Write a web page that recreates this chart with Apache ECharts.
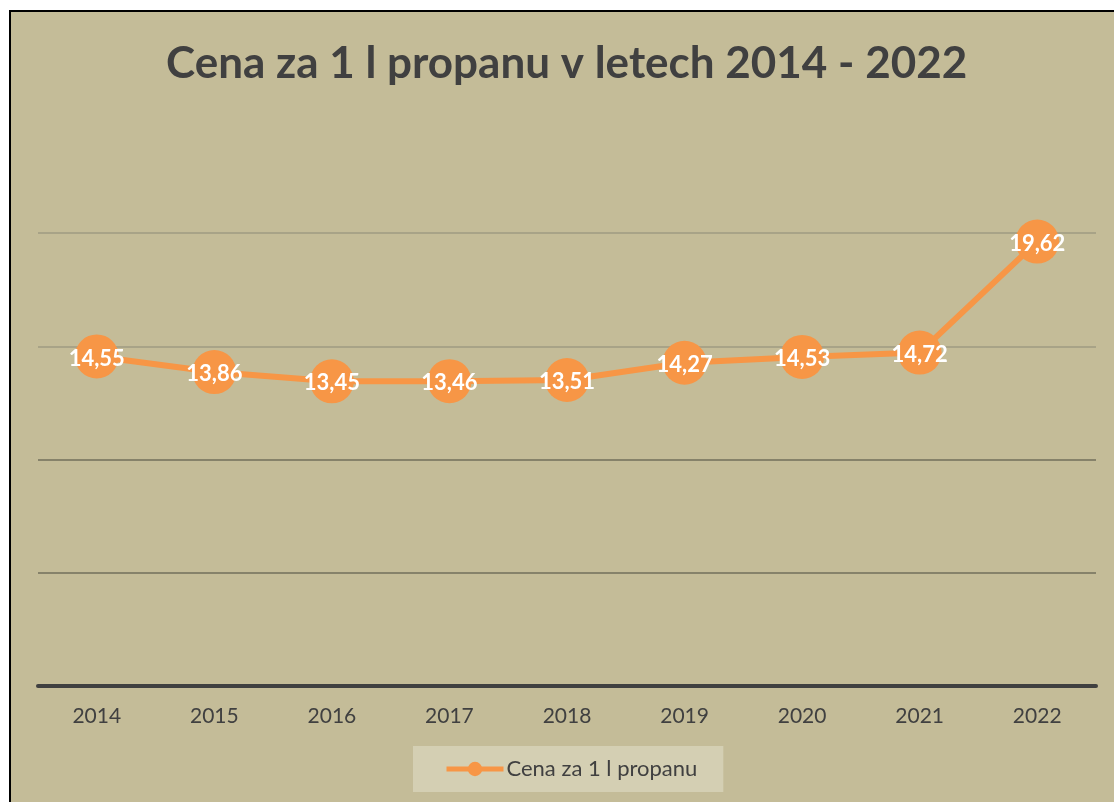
<!DOCTYPE html>
<html>
<head>
<meta charset="utf-8">
<script src="https://cdn.jsdelivr.net/npm/echarts@6/dist/echarts.min.js"></script>
<style>
html,body{margin:0;padding:0;background:#fff;}
#chart{width:1114px;height:802px;}
</style>
</head>
<body>
<div id="chart"></div>
<script>
const categories = ['2014','2015','2016','2017','2018','2019','2020','2021','2022'];
const prices = [14.55, 13.86, 13.45, 13.46, 13.51, 14.27, 14.53, 14.72, 19.62];
const seriesName = 'Cena za 1 l propanu';
const titleText = 'Cena za 1 l propanu v letech 2014 - 2022';

const chart = echarts.init(document.getElementById('chart'));
chart.setOption({
  backgroundColor: '#ffffff',
  animation: false,
  graphic: [{
    type: 'rect', z: -10, silent: true,
    shape: {x: 10, y: 11, width: 1120, height: 800},
    style: {fill: '#C4BC98', stroke: '#000000', lineWidth: 2}
  }],
  title: {
    text: titleText,
    left: 161, top: 37,
    textStyle: {fontFamily: 'Lato', fontWeight: 'bold', fontSize: 44, color: '#404040'}
  },
  grid: {left: 38, right: 18, top: 233, bottom: 116, containLabel: false},
  xAxis: {
    type: 'category', data: categories, boundaryGap: true,
    axisLine: {lineStyle: {color: '#404040', width: 4}},
    axisTick: {show: false},
    axisLabel: {fontFamily: 'Lato', fontSize: 21, color: '#404040', margin: 20}
  },
  yAxis: {
    type: 'value', min: 0, max: 20, interval: 5,
    axisLabel: {show: false}, axisLine: {show: false}, axisTick: {show: false},
    splitLine: {lineStyle: {color: ['#86826A', '#86826A', '#86826A', '#A8A387', '#A8A387'], width: 2}}
  },
  legend: {
    data: [seriesName], left: 413, top: 746,
    backgroundColor: '#D4CFB3',
    padding: [12, 26, 12, 31],
    itemWidth: 57, itemHeight: 18, itemGap: 4,
    lineStyle: {width: 5},
    textStyle: {fontFamily: 'Lato', fontSize: 22, color: '#404040', padding: [0, 0, 0, -2]}
  },
  series: [{
    name: seriesName, type: 'line', data: prices,
    lineStyle: {color: '#F79646', width: 6},
    itemStyle: {color: '#F79646'},
    symbol: 'circle', symbolSize: 44,
    label: {
      show: true, position: 'inside', offset: [0, 2],
      fontFamily: 'Lato', fontWeight: 'bold', fontSize: 22, color: '#ffffff',
      formatter: p => p.value.toFixed(2).replace('.', ',')
    }
  }]
});
</script>
</body>
</html>
